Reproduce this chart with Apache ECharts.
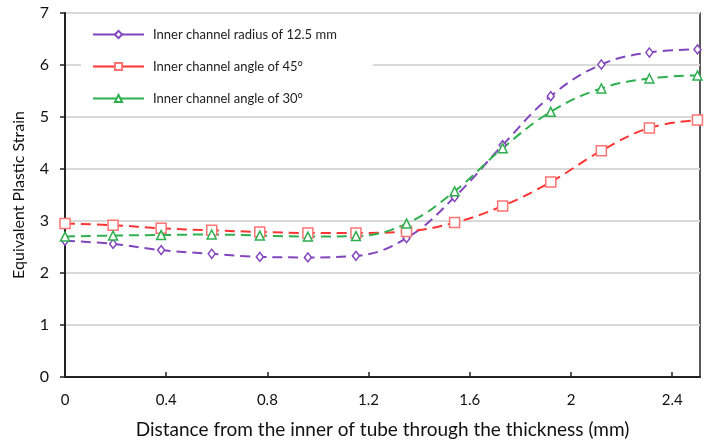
<!DOCTYPE html>
<html><head><meta charset="utf-8">
<script src="https://cdn.jsdelivr.net/npm/echarts@6/dist/echarts.min.js"></script>
<style>html,body{margin:0;padding:0;background:#fff}#c{width:710px;height:441px}</style>
</head><body><div id="c"></div>
<script>
const xs = [0, 0.19, 0.38, 0.58, 0.77, 0.96, 1.15, 1.35, 1.54, 1.73, 1.92, 2.12, 2.31, 2.5];
const radius125 = [2.62, 2.56, 2.44, 2.37, 2.31, 2.30, 2.33, 2.67, 3.46, 4.46, 5.40, 6.01, 6.24, 6.30];
const angle45 = [2.95, 2.92, 2.86, 2.82, 2.79, 2.77, 2.77, 2.80, 2.97, 3.29, 3.75, 4.35, 4.79, 4.94];
const angle30 = [2.70, 2.72, 2.73, 2.74, 2.72, 2.70, 2.71, 2.95, 3.57, 4.40, 5.10, 5.55, 5.74, 5.80];
const seriesNames = ['Inner channel radius of 12.5 mm', 'Inner channel angle of 45°', 'Inner channel angle of 30°'];
const xTitle = 'Distance from the inner of tube through the thickness (mm)';
const yTitle = 'Equivalent Plastic Strain';

const FONT = 'Lato';
const pair = v => v.map((y, i) => [xs[i], y]);
function mk(name, data, color, symbol, size, border) {
  return {
    name, type: 'line', data: pair(data), smooth: 0.4,
    symbol, symbolSize: size, showSymbol: true,
    lineStyle: { color, width: 2, type: [10, 6] },
    itemStyle: { color: '#fff', borderColor: border || color, borderWidth: 1.5 },
    emphasis: { disabled: true }
  };
}
const chart = echarts.init(document.getElementById('c'), null, { renderer: 'canvas' });
chart.setOption({
  animation: false,
  backgroundColor: '#fff',
  grid: { left: 65, top: 13, right: 10, bottom: 64, outerBoundsMode: 'none', containLabel: false, show: true, borderColor: '#222', borderWidth: 1.5, backgroundColor: 'transparent' },
  legend: {
    orient: 'vertical', left: 81, top: 22,
    padding: [6, 36, 6, 11], backgroundColor: '#fff',
    itemWidth: 51, itemHeight: 9, itemGap: 19,
    lineStyle: { type: 'solid' },
    textStyle: { fontFamily: FONT, fontSize: 13, color: '#222', padding: [0, 0, 0, 4] },
    data: seriesNames
  },
  xAxis: {
    type: 'value', min: 0, max: 2.51, interval: 0.4,
    name: xTitle, nameLocation: 'middle', nameGap: 43,
    nameTextStyle: { fontFamily: FONT, fontSize: 19, color: '#111' },
    axisLine: { show: true, onZero: false, lineStyle: { color: '#222', width: 2 } },
    axisTick: { show: true, inside: true, length: 5, lineStyle: { color: '#222', width: 1.5 } },
    axisLabel: { fontFamily: FONT, fontSize: 15, color: '#111', margin: 16, showMaxLabel: false },
    splitLine: { show: false }
  },
  yAxis: {
    type: 'value', min: 0, max: 7, interval: 1,
    name: yTitle, nameLocation: 'middle', nameGap: 38,
    nameTextStyle: { fontFamily: FONT, fontSize: 16, color: '#111' },
    axisLine: { show: true, lineStyle: { color: '#222', width: 2 } },
    axisTick: { show: true, inside: false, length: 5, lineStyle: { color: '#222', width: 1.5 } },
    axisLabel: { fontFamily: FONT, fontSize: 16, color: '#111', margin: 16 },
    splitLine: { show: true, lineStyle: { color: '#d9d9d9', width: 2 } }
  },
  series: [
    mk(seriesNames[0], radius125, '#8245bd', 'diamond', [7, 9]),
    mk(seriesNames[1], angle45, '#ff3535', 'rect', 10, '#ff7373'),
    mk(seriesNames[2], angle30, '#2eb04f', 'triangle', 9)
  ]
});
</script></body></html>
